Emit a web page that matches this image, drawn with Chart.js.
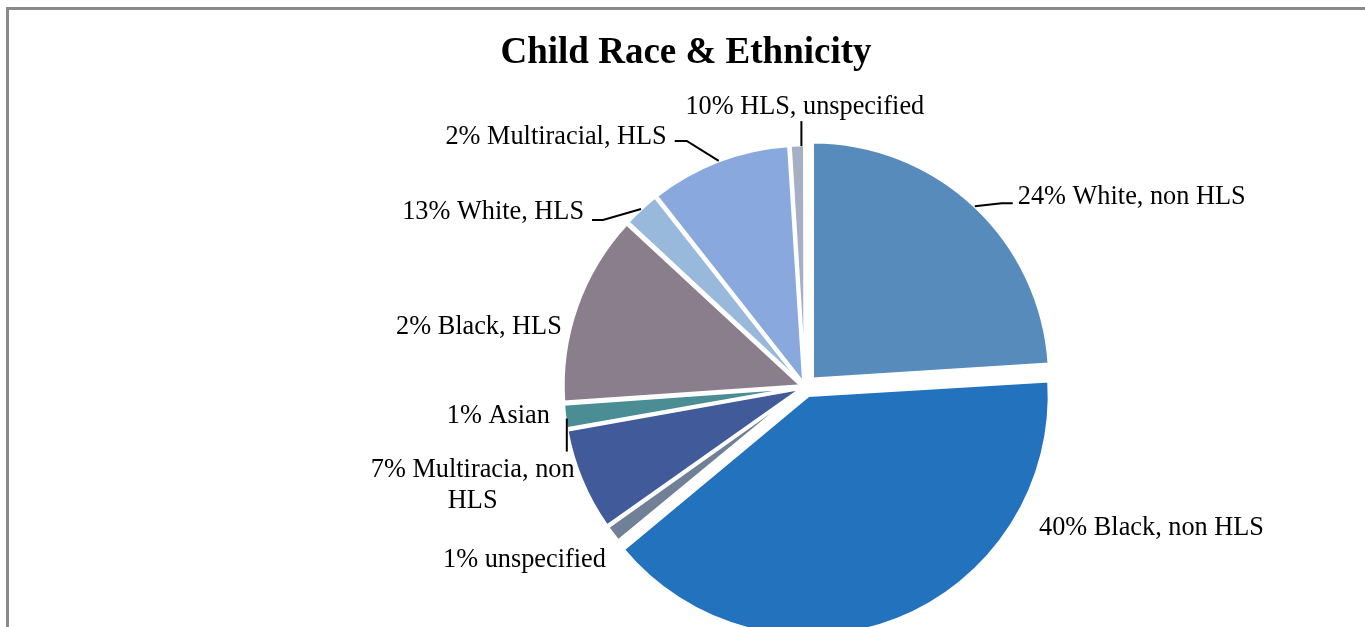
<!DOCTYPE html>
<html lang="en">
<head>
  <meta charset="UTF-8" />
  <title>Child Race &amp; Ethnicity</title>
  <script src="https://cdn.jsdelivr.net/npm/chart.js"></script>
  <style>
    html, body { margin: 0; padding: 0; background: #fff; overflow: hidden; width: 1365px; height: 627px; }
    #frame { position: absolute; left: 6px; top: 7px; width: 1400px; height: 700px; border: 3px solid #8a8a8a; box-sizing: border-box; }
    #chart { position: absolute; left: 0; top: 0; }
  </style>
</head>
<body>
  <div id="frame"></div>
  <canvas id="chart" width="1365" height="774"></canvas>

  <script>
    const chartTitle = 'Child Race & Ethnicity';
    // slice names in drawing order, clockwise from 12 o'clock
    const categories = [
      'White, non HLS', 'Black, non HLS', 'unspecified', 'Multiracia, non HLS',
      'Asian', 'Black, HLS', 'White, HLS', 'Multiracial, HLS', 'HLS, unspecified'
    ];
    // slice sizes (percent)
    const shares = [24, 40, 1.2, 7, 1.7, 13, 2.5, 9.6, 1];
    // label text as printed on the original chart
    const labelLines = [
      ['24% White, non HLS'],
      ['40% Black, non HLS'],
      ['1% unspecified'],
      ['7% Multiracia, non', 'HLS'],
      ['1% Asian'],
      ['2% Black, HLS'],
      ['13% White, HLS'],
      ['2% Multiracial, HLS'],
      ['10% HLS, unspecified']
    ];
    const colors = ['#578bbc', '#2372be', '#6f8097', '#405a9a', '#4a8d95', '#8a7e8c', '#98b8dc', '#88a8de', '#a6afc3'];
    // how far each slice is pulled out, in pixels
    const explodePx = [11, 13, 5, 5, 5, 5, 5, 5, 5];

    // Chart.js moves an arc by offset/4 * (2 - sin(sweep)); turn pixels into that option
    const total = shares.reduce((a, b) => a + b, 0);
    const offsetOpt = shares.map((v, i) => {
      const sweep = v / total * Math.PI * 2;
      const fix = 1 - Math.sin(Math.min(Math.PI, sweep));
      return explodePx[i] * 4 / (1 + fix);
    });

    // label placement relative to the slice's outer edge point, plus leader path
    const labelLayout = [
      { dx: 43, dy: -2, align: 'left', leader: [[27, -3], [38, -3]] },
      { dx: 142, dy: -84, align: 'left', leader: null },
      { dx: -7, dy: 33, align: 'right', leader: null },
      { dx: -109, dy: -3, align: 'center', leader: null },
      { dx: -15, dy: 6, align: 'right', leader: [[2, 2], [2, 35]], noStart: true },
      { dx: -15, dy: 28, align: 'right', leader: null },
      { dx: -57, dy: 10, align: 'right', leader: [[-38, 11], [-49, 11]] },
      { dx: -52, dy: -17, align: 'right', leader: [[-32, -20], [-44, -20]] },
      { dx: -112, dy: -31, align: 'left', leader: [[4, -24], [4, 1]], noStart: true }
    ];

    const sliceLabels = {
      id: 'sliceLabels',
      afterDatasetsDraw(chart) {
        const ctx = chart.ctx;
        const arcs = chart.getDatasetMeta(0).data;
        ctx.save();
        ctx.fillStyle = '#000';
        ctx.font = 'bold 37px "Liberation Serif", "Times New Roman", serif';
        ctx.textAlign = 'center';
        ctx.textBaseline = 'alphabetic';
        ctx.fillText(chartTitle, 686, 63);

        ctx.font = '26.3px "Liberation Serif", "Times New Roman", serif';
        ctx.strokeStyle = '#000';
        ctx.lineWidth = 2;
        arcs.forEach((arc, i) => {
          const p = arc.getProps(['x', 'y', 'startAngle', 'endAngle', 'outerRadius'], true);
          const mid = (p.startAngle + p.endAngle) / 2;
          const r = p.outerRadius + explodePx[i];
          const ex = p.x + Math.cos(mid) * r;
          const ey = p.y + Math.sin(mid) * r;
          const lay = labelLayout[i];
          if (lay.leader) {
            ctx.beginPath();
            if (lay.noStart) {
              ctx.moveTo(ex + lay.leader[0][0], ey + lay.leader[0][1]);
            } else {
              ctx.moveTo(ex, ey);
              ctx.lineTo(ex + lay.leader[0][0], ey + lay.leader[0][1]);
            }
            ctx.lineTo(ex + lay.leader[1][0], ey + lay.leader[1][1]);
            ctx.stroke();
          }
          ctx.textAlign = lay.align;
          labelLines[i].forEach((line, k) => {
            ctx.fillText(line, ex + lay.dx, ey + lay.dy + k * 31);
          });
        });
        ctx.restore();
      }
    };

    new Chart(document.getElementById('chart'), {
      type: 'pie',
      data: {
        labels: categories,
        datasets: [{
          data: shares,
          backgroundColor: colors,
          borderColor: '#ffffff',
          borderWidth: 3,
          offset: offsetOpt,
          hoverOffset: 0,
          radius: 237
        }]
      },
      options: {
        responsive: false,
        animation: false,
        devicePixelRatio: 1,
        layout: { padding: { left: 245, right: 0, top: 0, bottom: 0 } },
        plugins: {
          legend: { display: false },
          title: { display: false },
          tooltip: { enabled: false }
        }
      },
      plugins: [sliceLabels]
    });
  </script>
</body>
</html>
